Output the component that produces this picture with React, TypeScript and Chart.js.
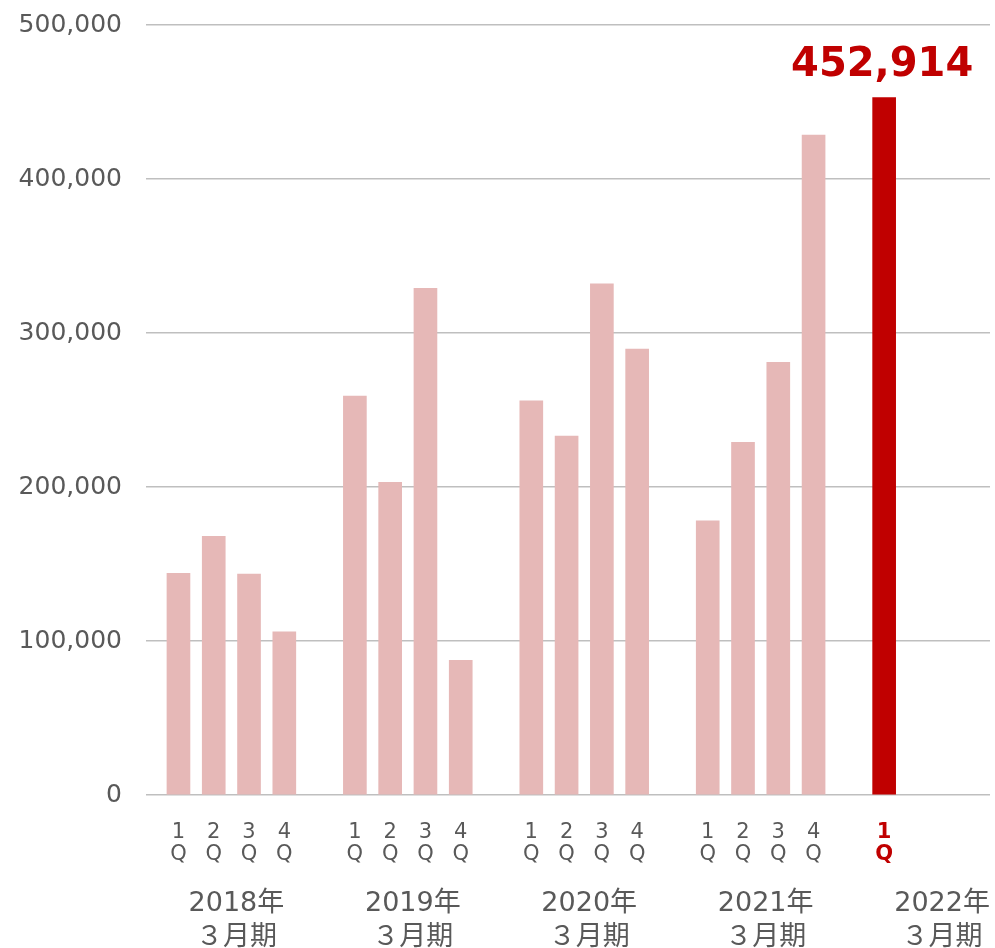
import React, { useEffect, useRef } from 'react';
import { Chart, registerables } from 'chart.js';

Chart.register(...registerables);

// ---- data ----
const fiscalYears = ['2018年', '2019年', '2020年', '2021年', '2022年'];
const fiscalSuffix = '３月期';
const quarterLabels = ['1Q', '2Q', '3Q', '4Q'];
const values2018 = [144000, 168000, 143500, 106000];
const values2019 = [259000, 203000, 329000, 87500];
const values2020 = [256000, 233000, 332000, 289500];
const values2021 = [178000, 229000, 281000, 428500];
const values2022 = [452914];
const yTickValues = [0, 100000, 200000, 300000, 400000, 500000];
const highlightText = '452,914';

const groups = [values2018, values2019, values2020, values2021, values2022];
const GROUP_SLOTS = 5;

const points: { x: number; y: number }[] = [];
const pointLabels: string[] = [];
groups.forEach((vals, g) => {
  vals.forEach((v, q) => {
    points.push({ x: g * GROUP_SLOTS + q, y: v });
    pointLabels.push(quarterLabels[q]);
  });
});
const lastIndex = points.length - 1;
const yearCenters = fiscalYears.map((_, g) => g * GROUP_SLOTS + 1.5);

const FONT = "'DejaVu Sans', 'Noto Sans CJK JP', sans-serif";
const GRAY = '#595959';
const RED = '#C00000';
const PINK = '#E6B8B7';

const highlightPlugin = {
  id: 'highlightLabel',
  afterDatasetsDraw(chart: any) {
    const meta = chart.getDatasetMeta(0);
    const el = meta.data[lastIndex];
    if (!el) return;
    const ctx = chart.ctx;
    ctx.save();
    ctx.font = `bold 40px ${FONT}`;
    ctx.fillStyle = RED;
    ctx.textAlign = 'center';
    ctx.textBaseline = 'alphabetic';
    ctx.fillText(highlightText, el.x - 2, el.y - 22);
    ctx.restore();
  },
};

export default function App() {
  const canvasRef = useRef<HTMLCanvasElement | null>(null);

  useEffect(() => {
    if (!canvasRef.current) return;
    const chart = new Chart(canvasRef.current, {
      type: 'bar',
      data: {
        datasets: [
          {
            data: points as any,
            backgroundColor: points.map((_, i) => (i === lastIndex ? RED : PINK)),
            barThickness: 23,
            xAxisID: 'x',
            yAxisID: 'y',
          },
        ],
      },
      options: {
        responsive: false,
        animation: false,
        layout: { padding: { left: 0, right: 5, top: 25, bottom: 0 } },
        plugins: {
          legend: { display: false },
          tooltip: { enabled: false },
        },
        scales: {
          x: {
            type: 'linear',
            position: 'bottom',
            weight: 0,
            offset: false,
            min: -0.92,
            max: 23,
            grid: { display: false },
            border: { display: false },
            afterBuildTicks: (s: any) => {
              s.ticks = points.map((p) => ({ value: p.x }));
            },
            afterFit: (s: any) => {
              s.height = 80;
            },
            ticks: {
              autoSkip: false,
              maxRotation: 0,
              minRotation: 0,
              padding: 18,
              callback: (_v: any, i: number) => pointLabels[i].split(''),
              color: (c: any) => (c.index === lastIndex ? RED : GRAY),
              font: (c: any) => ({
                family: FONT,
                size: 21,
                weight: c.index === lastIndex ? 'bold' : 'normal',
                lineHeight: 1.08,
              }),
            },
          },
          xYear: {
            type: 'linear',
            position: 'bottom',
            weight: 1,
            offset: false,
            min: -0.92,
            max: 23,
            grid: { display: false },
            border: { display: false },
            afterBuildTicks: (s: any) => {
              s.ticks = yearCenters.map((v) => ({ value: v }));
            },
            afterFit: (s: any) => {
              s.height = 73;
            },
            ticks: {
              autoSkip: false,
              maxRotation: 0,
              minRotation: 0,
              padding: 4,
              labelOffset: 5,
              color: GRAY,
              callback: (_v: any, i: number) => [fiscalYears[i], fiscalSuffix],
              font: { family: FONT, size: 27, lineHeight: 1.26 },
            },
          },
          y: {
            type: 'linear',
            min: 0,
            max: 500000,
            afterBuildTicks: (s: any) => {
              s.ticks = yTickValues.map((v) => ({ value: v }));
            },
            afterFit: (s: any) => {
              s.width = 146;
              s.paddingTop = 0;
              s.paddingBottom = 0;
            },
            grid: { color: '#BFBFBF', lineWidth: 1.5, drawTicks: false },
            border: { display: false },
            ticks: {
              padding: 24,
              color: GRAY,
              font: { family: FONT, size: 25 },
              callback: (v: any) => Number(v).toLocaleString('en-US'),
            },
          },
        },
      } as any,
      plugins: [highlightPlugin],
    });
    return () => chart.destroy();
  }, []);

  return (
    <div style={{ position: 'fixed', left: 0, top: 0, width: 995, height: 948, background: '#fff' }}>
      <canvas ref={canvasRef} width={995} height={948} style={{ display: 'block' }} />
    </div>
  );
}
